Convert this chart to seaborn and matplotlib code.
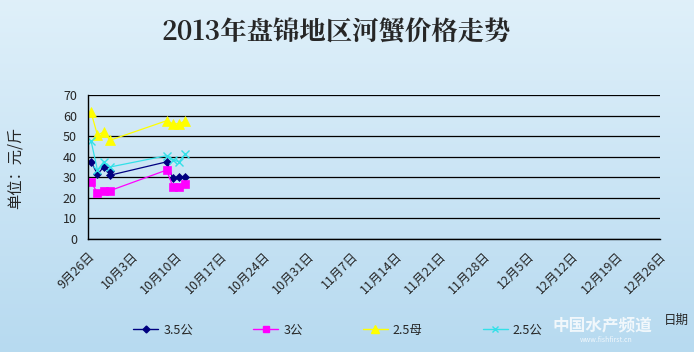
import numpy as np
import pandas as pd
import seaborn as sns
import matplotlib.pyplot as plt
from matplotlib.lines import Line2D

# ── Data ──────────────────────────────────────────────────────────────────────
START = "2013-09-26"
TICK_DATES = pd.date_range(START, "2013-12-26", freq="7D")

DATES_35M = ["2013-09-26", "2013-09-27", "2013-09-28", "2013-09-29", "2013-09-29",
             "2013-10-08", "2013-10-09", "2013-10-10", "2013-10-11"]
PRICE_35M = [37.5, 31.5, 35, 33, 31, 37.5, 29.5, 30, 30]

DATES_3M = ["2013-09-26", "2013-09-27", "2013-09-28", "2013-09-29",
            "2013-10-08", "2013-10-09", "2013-10-10", "2013-10-11"]
PRICE_3M = [27.5, 22.5, 23.5, 23.5, 33.5, 25.5, 25.5, 26.5]

DATES_25F = ["2013-09-26", "2013-09-27", "2013-09-28", "2013-09-29",
             "2013-10-08", "2013-10-09", "2013-10-10", "2013-10-11"]
PRICE_25F = [61.5, 50.5, 52, 48, 57.5, 56, 56, 57.5]

DATES_25M = ["2013-09-26", "2013-09-27", "2013-09-28", "2013-09-29",
             "2013-10-08", "2013-10-09", "2013-10-10", "2013-10-11"]
PRICE_25M = [47.5, 33.5, 37.5, 35, 40.5, 38.5, 37.5, 41.5]

SERIES = [
    ("3.5公", DATES_35M, PRICE_35M, "#000080", "D", 4.5),
    ("3公",   DATES_3M,  PRICE_3M,  "#ff00ff", "s", 5.5),
    ("2.5母", DATES_25F, PRICE_25F, "#ffff00", "^", 6.5),
    ("2.5公", DATES_25M, PRICE_25M, "#33e0e8", "x", 6),
]

# ── Style ─────────────────────────────────────────────────────────────────────
sns.set_theme(style="white")
plt.rcParams["font.family"] = ["Noto Sans CJK SC", "DejaVu Sans"]

fig = plt.figure(figsize=(6.94, 3.52), dpi=100)

# light blue vertical gradient background
bg = fig.add_axes([0, 0, 1, 1], zorder=-10)
grad = np.linspace(0, 1, 256).reshape(-1, 1)
top = np.array([0.875, 0.941, 0.980])
bot = np.array([0.718, 0.855, 0.941])
img = top[None, None, :] * (1 - grad[:, :, None]) + bot[None, None, :] * grad[:, :, None]
bg.imshow(img, aspect="auto", extent=[0, 1, 0, 1])
bg.set_axis_off()

ax = fig.add_axes([88 / 694, 1 - 239 / 352, 572 / 694, 144 / 352])
ax.patch.set_alpha(0)

t0 = pd.Timestamp(START)
handles = []
for label, dates, prices, color, marker, ms in SERIES:
    df = pd.DataFrame({"date": pd.to_datetime(dates), "price": prices})
    # Excel date axis: points sit in the middle of each day
    df["day"] = (df["date"] - t0).dt.days + 0.5
    sns.lineplot(data=df, x="day", y="price", ax=ax, estimator=None, sort=False,
                 color=color, lw=0.9, marker=marker, markersize=ms,
                 markeredgecolor=color, markeredgewidth=1.0 if marker == "x" else 0.5)
    handles.append(Line2D([], [], color=color, lw=1.0, marker=marker,
                          markersize=ms - 1, markeredgecolor=color, label=label))

tick_days = [(d - t0).days for d in TICK_DATES]
ax.set_xlim(0, tick_days[-1])
ax.set_ylim(0, 70)
ax.set_yticks(range(0, 71, 10))
ax.set_xticks(tick_days)
ax.set_xticklabels([f"{d.month}月{d.day}日" for d in TICK_DATES],
                   rotation=45, ha="right", rotation_mode="anchor", fontsize=9)
ax.tick_params(axis="x", direction="in", length=4, width=0.8, color="black", pad=8)
ax.tick_params(axis="y", length=0, labelsize=9, pad=8)
ax.yaxis.grid(True, color="black", lw=0.9)
ax.set_axisbelow(True)
for s in ["top", "right"]:
    ax.spines[s].set_visible(False)
for s in ["left", "bottom"]:
    ax.spines[s].set_color("black")
    ax.spines[s].set_linewidth(1.0)
ax.set_xlabel("")
ax.set_ylabel("")

fig.text(336 / 694, 1 - 33 / 352, "2013年盘锦地区河蟹价格走势",
         ha="center", va="center", fontsize=19, fontweight="semibold",
         family=["Noto Serif CJK SC", "Noto Sans CJK SC", "DejaVu Serif"])
fig.text(15 / 694, 1 - 168 / 352, "单位：元/斤", rotation=90,
         ha="center", va="center", fontsize=11)
fig.text(664 / 694, 1 - 320 / 352, "日期", ha="left", va="center", fontsize=9)

fig.legend(handles=handles, loc="center", bbox_to_anchor=(338 / 694, 1 - 330 / 352),
           ncol=4, frameon=False, fontsize=9, columnspacing=4.8,
           handlelength=2.0, handletextpad=0.4)

# watermark
fig.text(602 / 694, 1 - 325 / 352, "中国水产频道", ha="center", va="center",
         fontsize=12, fontweight="bold", style="italic", color="white", alpha=0.8)
fig.text(606 / 694, 1 - 340 / 352, "www.fishfirst.cn", ha="center", va="center",
         fontsize=5, color="white", alpha=0.8)

fig.savefig("out.png", dpi=100)
